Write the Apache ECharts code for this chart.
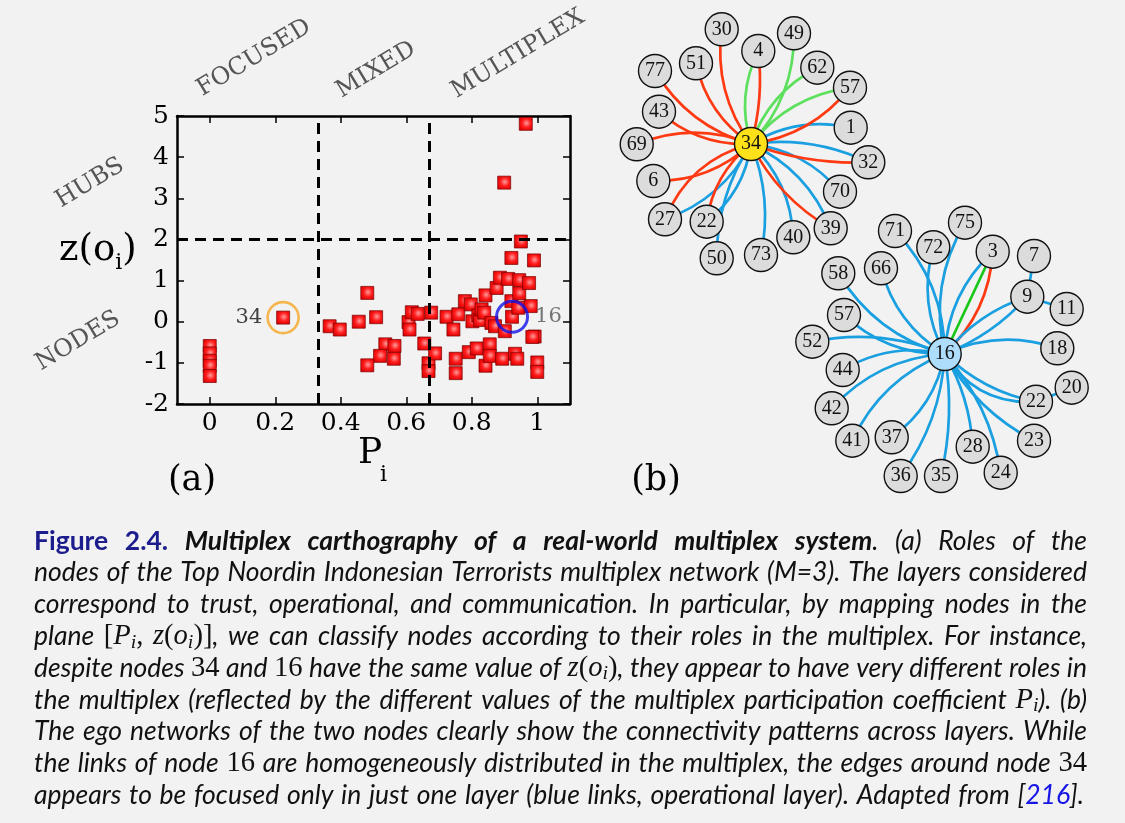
<!DOCTYPE html>
<html><head><meta charset="utf-8">
<script src="https://cdn.jsdelivr.net/npm/echarts@6/dist/echarts.min.js"></script>
<style>html,body{margin:0;padding:0;background:#f2f2f2;}#c{width:1125px;height:823px;}</style>
</head><body><div id="c"></div>
<script>
// ---------------- DATA ----------------
// panel (a): multiplex participation coefficient P_i vs z(o_i)
const xTickValues = [0, 0.2, 0.4, 0.6, 0.8, 1];
const xTickLabels = ['0', '0.2', '0.4', '0.6', '0.8', '1'];
const roleColumns = ['FOCUSED', 'MIXED', 'MULTIPLEX'];
const roleRows = ['HUBS', 'NODES'];
const pBoundaries = [1 / 3, 2 / 3];
const zBoundary = 2;
const nodeP = [0, 0, 0, 0, 0, 0.224,
  0.366, 0.397, 0.455, 0.481, 0.508, 0.536, 0.564, 0.52, 0.562, 0.481, 0.607, 0.61, 0.617, 0.635, 0.655,
  0.676, 0.668, 0.668, 0.688, 0.723, 0.744, 0.751, 0.751, 0.759, 0.779, 0.797, 0.791, 0.802, 0.815, 0.82,
  0.825, 0.830, 0.838, 0.842, 0.842, 0.855, 0.855, 0.86, 0.871, 0.876, 0.886, 0.893, 0.899, 0.901, 0.911,
  0.921, 0.921, 0.923, 0.932, 0.939, 0.942, 0.945, 0.945, 0.95, 0.965, 0.975, 0.98, 0.99, 0.992, 0.985, 1.0, 1.0];
const nodeZ = [-0.59, -0.77, -0.95, -1.07, -1.32, 0.10,
  -0.11, -0.19, 0.0, 0.70, 0.11, -0.55, -0.59, -0.83, -0.90, -1.06, -0.01, -0.19, 0.23, 0.19, -0.53,
  0.22, -1.01, -1.20, -0.77, 0.12, -0.19, -0.90, -1.25, 0.18, 0.50, 0.42, -0.74, 0.01, -0.65, 0.15,
  0.04, 0.30, 0.22, 0.64, -1.07, -0.55, -0.83, -0.03, -0.11, 0.82, 1.07, -0.90, 3.38, -0.23, 1.04,
  1.55, 0.50, 0.12, -0.78, -0.90, 0.34, 1.01, 0.69, 1.95, 4.81, 0.94, 0.38, 1.49, -0.36, -0.37, -0.99, -1.22];
const markedNames = ['34', '16'];
const markedP = [0.224, 0.923];
const markedZ = [0.10, 0.12];

// panel (b): ego networks (layout coordinates)
const egoA = { center: '34', names: ['34', '30', '4', '49', '62', '57', '1', '32', '70', '39', '40', '73', '50', '22', '27', '6', '69', '43', '77', '51'],
  x: [751, 721.7, 758.3, 794, 817.3, 850, 850.7, 868.3, 840, 830.7, 793.3, 761, 716.7, 706.7, 665, 653.3, 636.7, 659, 655, 696],
  y: [144, 29.3, 51, 33.3, 67.7, 87.7, 127.7, 162.3, 191.7, 228.3, 237.3, 255, 258.3, 221.7, 219.3, 181, 144.3, 111.7, 71, 63.3] };
const egoALinks = { target: ['30', '51', '77', '43', '69', '6', '27', '27', '22', '22', '50', '73', '40', '39', '39', '70', '32', '32', '1', '57', '57', '62', '49', '4', '4'],
  layer: ['r', 'r', 'r', 'r', 'r', 'r', 'r', 'b', 'r', 'b', 'b', 'b', 'b', 'r', 'b', 'b', 'r', 'b', 'b', 'r', 'g', 'g', 'g', 'r', 'g'],
  bend: [0.2, 0.2, 0.2, 0.2, -0.2, 0.2, -0.25, 0.2, -0.2, 0.2, -0.15, 0.15, 0.2, -0.15, 0.2, 0.2, -0.1, 0.15, 0.2, -0.2, 0.2, 0.2, -0.2, -0.1, 0.2] };
const egoB = { center: '16', names: ['16', '71', '72', '75', '3', '7', '9', '11', '18', '20', '22', '23', '24', '28', '35', '36', '37', '41', '42', '44', '52', '57', '58', '66'],
  x: [944.7, 895, 933.3, 965, 992.7, 1034, 1027.3, 1066.7, 1057.3, 1071.7, 1036, 1034, 1000.7, 972.7, 941, 900.7, 891.7, 852.3, 831.7, 842.7, 812.3, 844, 838.3, 881],
  y: [354, 231, 247.3, 222.7, 251.7, 256, 296.7, 309, 348.3, 387.7, 401.7, 440.7, 472.7, 446.7, 476, 476, 437.3, 440.7, 408.3, 370, 341.7, 315, 273.3, 268.3] };
const egoBLinks = { source: ['16', '16', '16', '16', '16', '16', '16', '16', '16', '16', '16', '16', '16', '16', '16', '16', '16', '16', '16', '16', '16', '16', '16', '16', '7', '11', '20'],
  target: ['71', '72', '75', '3', '3', '3', '66', '58', '57', '52', '44', '42', '41', '37', '36', '35', '28', '24', '23', '22', '22', '18', '9', '9', '9', '9', '22'],
  layer: ['b', 'b', 'b', 'g', 'r', 'b', 'b', 'b', 'b', 'b', 'b', 'b', 'b', 'b', 'b', 'b', 'b', 'b', 'b', 'b', 'b', 'b', 'b', 'b', 'b', 'b', 'b'],
  bend: [-0.2, 0.2, 0.2, 0, -0.2, 0.2, 0.2, 0.2, 0.2, -0.15, -0.2, -0.2, -0.2, 0.2, 0.15, 0.1, 0.12, 0.15, -0.15, -0.15, -0.3, 0.2, 0.15, -0.12, 0, 0, 0] };

// caption lines: [text, style]
const captionLines = [
  [['Figure 2.4.', 'fig'], [' ', 'i'], ['Multiplex carthography of a real-world multiplex system', 'bi'], ['. (a) Roles of the', 'i']],
  [['nodes of the Top Noordin Indonesian Terrorists multiplex network (M=3). The layers considered', 'i']],
  [['correspond to trust, operational, and communication. In particular, by mapping nodes in the', 'i']],
  [['plane ', 'i'], ['[', 'mr'], ['P', 'mi'], ['i', 'sub'], [',', 'mr'], [' z', 'mi'], ['(', 'mr'], ['o', 'mi'], ['i', 'sub'], [')]', 'mr'], [', we can classify nodes according to their roles in the multiplex. For instance,', 'i']],
  [['despite nodes ', 'i'], ['34', 'mr'], [' and ', 'i'], ['16', 'mr'], [' have the same value of ', 'i'], ['z', 'mi'], ['(', 'mr'], ['o', 'mi'], ['i', 'sub'], [')', 'mr'], [', they appear to have very different roles in', 'i']],
  [['the multiplex (reflected by the different values of the multiplex participation coefficient ', 'i'], ['P', 'mi'], ['i', 'sub'], ['). (b)', 'i']],
  [['The ego networks of the two nodes clearly show the connectivity patterns across layers. While', 'i']],
  [['the links of node ', 'i'], ['16', 'mr'], [' are homogeneously distributed in the multiplex, the edges around node ', 'i'], ['34', 'mr']],
  [['appears to be focused only in just one layer (blue links, operational layer). Adapted from [', 'i'], ['216', 'link'], ['].', 'i']]
];

// ---------------- STYLE / LAYOUT ----------------
const SERIF = '"DejaVu Serif", serif';
const LSERIF = '"Liberation Serif", "DejaVu Serif", serif';
const SANS = 'Lato, "Open Sans", sans-serif';
const layerColor = { r: '#ff3a12', b: '#1a9fe0', g: '#5de05d' };
const layerColorB = { r: '#ff3a12', b: '#1a9fe0', g: '#18c818' };

const mctx = document.createElement('canvas').getContext('2d');
function measure(t, st) {
  mctx.font = `${st.fontStyle} ${st.fontWeight} ${st.fontSize}px ${st.fontFamily}`;
  return mctx.measureText(t).width;
}
function styleOf(key, fs) {
  const s = { fontFamily: SANS, fontSize: fs, fontStyle: 'italic', fontWeight: 'normal', fill: '#111', dy: 0 };
  if (key === 'fig') { s.fontStyle = 'normal'; s.fontWeight = 'bold'; s.fill = '#1c1c8c'; }
  if (key === 'bi') { s.fontWeight = 'bold'; }
  if (key === 'mi') { s.fontFamily = LSERIF; s.fontSize = fs * 1.08; }
  if (key === 'mr') { s.fontFamily = LSERIF; s.fontStyle = 'normal'; s.fontSize = fs * 1.08; }
  if (key === 'sub') { s.fontFamily = LSERIF; s.fontSize = fs * 0.75; s.dy = 6; }
  if (key === 'link') { s.fill = '#1515e6'; }
  return s;
}
function wordsOf(segs) {
  const words = [[]];
  segs.forEach(([t, k]) => {
    t.split(' ').forEach((p, i) => {
      if (i > 0) words.push([]);
      if (p) words[words.length - 1].push({ t: p, k });
    });
  });
  return words.filter(w => w.length);
}
const CAP_L = 34, CAP_R = 1087, CAP_Y0 = 541, CAP_STEP = 31.8;
let fs = 30;
const capWords = captionLines.map(wordsOf);
function lineWidth(ws, f) {
  let sum = 0;
  ws.forEach(w => w.forEach(a => { sum += measure(a.t, styleOf(a.k, f)); }));
  return sum + 0.24 * f * (ws.length - 1);
}
let ratio = 1;
capWords.forEach(ws => { ratio = Math.min(ratio, (CAP_R - CAP_L) / lineWidth(ws, fs)); });
fs = fs * ratio;
const captionGraphics = [];
capWords.forEach((ws, li) => {
  const widths = ws.map(w => w.reduce((s, a) => s + measure(a.t, styleOf(a.k, fs)), 0));
  const total = widths.reduce((a, b) => a + b, 0);
  const right = li === capWords.length - 1 ? 1084 : CAP_R;
  const gap = (right - CAP_L - total) / (ws.length - 1);
  let x = CAP_L;
  const y = CAP_Y0 + li * CAP_STEP;
  ws.forEach((w, wi) => {
    let xx = x;
    w.forEach(a => {
      const st = styleOf(a.k, fs);
      captionGraphics.push({ type: 'text', x: xx, y: y + st.dy, silent: true,
        style: { text: a.t, fontFamily: st.fontFamily, fontSize: st.fontSize, fontStyle: st.fontStyle, fontWeight: st.fontWeight, fill: st.fill, align: 'left', verticalAlign: 'middle' } });
      xx += measure(a.t, st);
    });
    x += widths[wi] + gap;
  });
});

// role labels
const rot = 31 * Math.PI / 180;
const roleLabelPos = { FOCUSED: [254, 58], MIXED: [376, 70], MULTIPLEX: [518, 54], HUBS: [90, 183], NODES: [78, 341] };
const roleGraphics = roleColumns.concat(roleRows).map(n => ({ type: 'text', x: roleLabelPos[n][0], y: roleLabelPos[n][1], rotation: rot, silent: true,
  style: { text: n, fontFamily: SERIF, fontSize: 24, fill: '#555', align: 'center', verticalAlign: 'middle' } }));

function txt(t, x, y, size, align, family) {
  return { type: 'text', x, y, silent: true, style: { text: t, fontFamily: family || SERIF, fontSize: size, fill: '#000', align: align || 'left', verticalAlign: 'middle' } };
}
const yl1 = measure('z(o', { fontStyle: 'normal', fontWeight: 'normal', fontSize: 37, fontFamily: SERIF });
const yl2 = measure('i', { fontStyle: 'normal', fontWeight: 'normal', fontSize: 22, fontFamily: SERIF });
const axisNameGraphics = [
  txt('z(o', 59, 250, 37), txt('i', 59 + yl1, 263, 22), txt(')', 59 + yl1 + yl2, 250, 37),
  txt('P', 358, 454, 36), txt('i', 380, 475, 22),
  txt('(a)', 192, 481, 35, 'center'), txt('(b)', 656, 481, 35, 'center')
];

// network series builder
function egoSeries(ego, links, colors, name) {
  const data = ego.names.map((n, i) => ({ name: n, value: [ego.x[i], ego.y[i]],
    itemStyle: n === ego.center ? { color: n === '34' ? '#ffe11a' : '#aedcfb' } : undefined }));
  const src = links.source || links.target.map(() => ego.center);
  const edges = links.target.map((t, i) => ({ source: src[i], target: t,
    lineStyle: { color: colors[links.layer[i]], curveness: links.bend[i] } }));
  return { type: 'graph', name, coordinateSystem: 'cartesian2d', xAxisIndex: 2, yAxisIndex: 2, layout: 'none',
    symbol: 'circle', symbolSize: 33, data, links: edges, silent: true, z: 3,
    itemStyle: { color: '#dcdcdc', borderColor: '#111', borderWidth: 1.4 },
    lineStyle: { width: 2.7, opacity: 1 },
    label: { show: true, position: 'inside', fontFamily: LSERIF, fontSize: 20, color: '#111' },
    emphasis: { disabled: true } };
}

const squareColor = new echarts.graphic.RadialGradient(0.55, 0.45, 0.65, [
  { offset: 0, color: '#ff9a9a' }, { offset: 0.5, color: '#ff1a1a' }, { offset: 1, color: '#d60000' }]);

const axisLine = { show: true, onZero: false, lineStyle: { color: '#000', width: 2.5 } };
const option = {
  backgroundColor: '#f2f2f2',
  animation: false,
  grid: [
    { left: 177, top: 116, width: 393, height: 288 },
    { left: 0, top: 0, width: 1125, height: 823 }
  ],
  xAxis: [
    { type: 'value', gridIndex: 0, min: -0.1, max: 1.1, position: 'bottom', axisLine,
      axisTick: { show: true, inside: true, length: 7, customValues: xTickValues, lineStyle: { color: '#000', width: 1.5 } },
      axisLabel: { show: true, customValues: xTickValues, formatter: v => xTickLabels[xTickValues.findIndex(t => Math.abs(t - v) < 1e-9)], fontFamily: SERIF, fontSize: 25, color: '#000', margin: 7 },
      splitLine: { show: false } },
    { type: 'value', gridIndex: 0, min: -0.1, max: 1.1, position: 'top', axisLine,
      axisTick: { show: true, inside: true, length: 7, customValues: xTickValues, lineStyle: { color: '#000', width: 1.5 } },
      axisLabel: { show: false }, splitLine: { show: false } },
    { type: 'value', gridIndex: 1, min: 0, max: 1125, show: false }
  ],
  yAxis: [
    { type: 'value', gridIndex: 0, min: -2, max: 5, interval: 1, position: 'left', axisLine,
      axisTick: { show: true, inside: true, length: 7, lineStyle: { color: '#000', width: 1.5 } },
      axisLabel: { fontFamily: SERIF, fontSize: 25, color: '#000', margin: 8 }, splitLine: { show: false } },
    { type: 'value', gridIndex: 0, min: -2, max: 5, interval: 1, position: 'right', axisLine,
      axisTick: { show: true, inside: true, length: 7, lineStyle: { color: '#000', width: 1.5 } },
      axisLabel: { show: false }, splitLine: { show: false } },
    { type: 'value', gridIndex: 1, min: 0, max: 823, inverse: true, show: false }
  ],
  series: [
    { type: 'scatter', xAxisIndex: 0, yAxisIndex: 0, symbol: 'rect', symbolSize: 13, silent: true, z: 3,
      data: nodeP.map((p, i) => [p, nodeZ[i]]),
      itemStyle: { color: squareColor, borderColor: '#7a0000', borderWidth: 0.7, opacity: 1 },
      markLine: { silent: true, symbol: 'none', label: { show: false }, animation: false,
        lineStyle: { color: '#000', width: 3, type: [11, 7] },
        data: pBoundaries.map(p => ({ xAxis: p })).concat([{ yAxis: zBoundary }]) } },
    { type: 'scatter', xAxisIndex: 0, yAxisIndex: 0, symbol: 'circle', symbolSize: 31, silent: true, z: 4,
      data: markedNames.map((n, i) => ({ name: n, value: [markedP[i], markedZ[i]],
        itemStyle: { color: 'rgba(0,0,0,0)', borderColor: i === 0 ? '#f5a623' : '#1010e8', borderWidth: i === 0 ? 2.6 : 3 },
        label: { show: true, formatter: n, position: i === 0 ? 'left' : 'right', distance: i === 0 ? 4 : 6,
          fontFamily: SERIF, fontSize: 21, color: i === 0 ? '#111' : '#555' } })) },
    egoSeries(egoA, egoALinks, layerColor, 'ego34'),
    egoSeries(egoB, egoBLinks, layerColorB, 'ego16')
  ],
  graphic: { elements: roleGraphics.concat(axisNameGraphics, captionGraphics) }
};
const chart = echarts.init(document.getElementById('c'), null, { renderer: 'canvas' });
chart.setOption(option);
</script>
</body></html>
